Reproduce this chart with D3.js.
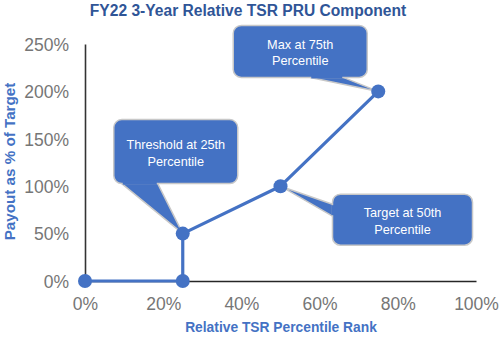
<!DOCTYPE html>
<html>
<head>
<meta charset="utf-8">
<script src="https://cdn.jsdelivr.net/npm/d3@7"></script>
<style>
  html, body { margin: 0; padding: 0; background: #fff; }
  svg { display: block; font-family: "Liberation Sans", Arial, sans-serif; }
</style>
</head>
<body>
<svg id="chart" width="500" height="338"></svg>
<script>
// Payout curve: percentile rank (%) vs payout as % of target
const rankValues   = [0, 25, 25, 50, 75];
const payoutValues = [0, 0, 50, 100, 200];

const xTicks = [0, 20, 40, 60, 80, 100];
const yTicks = [0, 50, 100, 150, 200, 250];

// Callouts attached to points (index into the series)
const calloutPoints = [2, 3, 4];
const calloutLines  = [
  ["Threshold at 25th", "Percentile"],
  ["Target at 50th", "Percentile"],
  ["Max at 75th", "Percentile"]
];

const blue = "#4472C4";
const titleBlue = "#2F5597";
const svg = d3.select("#chart");

const x = d3.scaleLinear().domain([0, 100]).range([85, 476]);
const y = d3.scaleLinear().domain([0, 250]).range([281, 44]);

// Title
svg.append("text")
  .attr("x", 248).attr("y", 15.5)
  .attr("text-anchor", "middle")
  .attr("font-size", 15.6).attr("font-weight", "bold")
  .attr("fill", titleBlue)
  .text("FY22 3-Year Relative TSR PRU Component");

// Axes
const xAxis = d3.axisBottom(x).tickValues(xTicks).tickFormat(d => d + "%").tickSize(0).tickPadding(0);
const yAxis = d3.axisLeft(y).tickValues(yTicks).tickFormat(d => d + "%").tickSize(0).tickPadding(0);

const gx = svg.append("g").attr("transform", `translate(0,${y(0)})`).call(xAxis);
gx.select(".domain").attr("stroke", "#262626").attr("stroke-width", 1.3);
gx.selectAll(".tick text")
  .attr("y", 28.5).attr("dy", 0)
  .attr("font-size", 17.5).attr("fill", "#767676")
  .attr("font-family", "Liberation Sans, Arial, sans-serif");

const gy = svg.append("g").attr("transform", `translate(${x(0)},0)`).call(yAxis);
gy.select(".domain").attr("stroke", "#333").attr("stroke-width", 1.6);
gy.selectAll(".tick text")
  .attr("x", -16).attr("dy", 6.2)
  .attr("font-size", 17.5).attr("fill", "#767676")
  .attr("font-family", "Liberation Sans, Arial, sans-serif");

// Axis titles
svg.append("text")
  .attr("transform", `translate(14.5,${(78 + 245) / 2}) rotate(-90)`)
  .attr("text-anchor", "middle")
  .attr("font-size", 15.2).attr("font-weight", "bold")
  .attr("fill", blue)
  .text("Payout as % of Target");

svg.append("text")
  .attr("x", 281).attr("y", 332)
  .attr("text-anchor", "middle")
  .attr("font-size", 13.8).attr("font-weight", "bold")
  .attr("fill", blue)
  .text("Relative TSR Percentile Rank");

// Payout line and markers
const pts = rankValues.map((r, i) => ({ r, p: payoutValues[i] }));
svg.append("path")
  .datum(pts)
  .attr("fill", "none")
  .attr("stroke", blue)
  .attr("stroke-width", 3.2)
  .attr("stroke-linejoin", "round")
  .attr("d", d3.line().x(d => x(d.r)).y(d => y(d.p)));

// Callout boxes: box geometry relative to anchor point, pointer base on a box edge
const boxSpecs = [
  { dx: -69, dy: -114, w: 124, h: 64, base: [[8, 64], [44, 64]] },
  { dx: 52,  dy: 8,    w: 140, h: 51, base: [[0, 10], [0, 22]] },
  { dx: -145, dy: -66, w: 134, h: 52, base: [[77, 52], [110, 52]] }
];

calloutPoints.forEach((pi, k) => {
  const px = x(pts[pi].r), py = y(pts[pi].p);
  const s = boxSpecs[k];
  const bx = px + s.dx, by = py + s.dy;
  const g = svg.append("g");
  // pointer wedge
  g.append("path")
    .attr("d", `M${bx + s.base[0][0]},${by + s.base[0][1]} L${px},${py} L${bx + s.base[1][0]},${by + s.base[1][1]}`)
    .attr("fill", blue).attr("stroke", "#c8c8c8").attr("stroke-width", 1.5)
    .attr("stroke-linejoin", "round");
  g.append("rect")
    .attr("x", bx).attr("y", by).attr("width", s.w).attr("height", s.h)
    .attr("rx", 8).attr("ry", 8)
    .attr("fill", blue).attr("stroke", "#c8c8c8").attr("stroke-width", 1.5);
  // cover the seam where the wedge meets the box
  const a = s.base[0], b = s.base[1];
  if (a[1] === b[1]) {
    g.append("rect").attr("x", bx + a[0] + 1).attr("y", by + a[1] - 3)
      .attr("width", b[0] - a[0] - 2).attr("height", 4).attr("fill", blue);
  } else {
    g.append("rect").attr("x", bx - 1).attr("y", by + a[1] + 1)
      .attr("width", 4).attr("height", b[1] - a[1] - 2).attr("fill", blue);
  }
  const t = g.append("text")
    .attr("text-anchor", "middle")
    .attr("font-size", 12.7).attr("fill", "#fff");
  calloutLines[k].forEach((line, j) => {
    t.append("tspan").attr("x", bx + s.w / 2)
      .attr("y", by + s.h / 2 - 2.5 + j * 16.5)
      .text(line);
  });
});

svg.append("g").selectAll("circle")
  .data(pts)
  .join("circle")
  .attr("cx", d => x(d.r)).attr("cy", d => y(d.p))
  .attr("r", 7)
  .attr("fill", blue);
</script>
</body>
</html>
